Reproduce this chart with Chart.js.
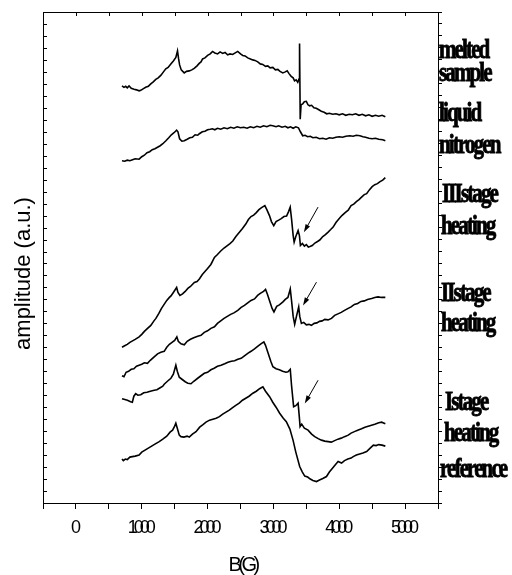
<!DOCTYPE html>
<html>
<head>
<meta charset="utf-8">
<script src="https://cdn.jsdelivr.net/npm/chart.js@4.4.0/dist/chart.umd.min.js"></script>
<style>
  html, body { margin: 0; padding: 0; background: #fff; }
</style>
</head>
<body>
<canvas id="c" width="512" height="575"></canvas>
<script>
// field B (G) and amplitude (a.u., offset stacked)
const meltedB   = [700,730,756,780,807,840,883,920,960,985,1020,1060,1100,1137,1175,1213,1250,1289,1330,1365,1400,1442,1480,1518,1543,1560,1575,1600,1645,1680,1721,1760,1797,1840,1873,1900,1924,1960,2000,2040,2076,2110,2152,2190,2229,2265,2305,2340,2381,2420,2458,2500,2534,2570,2610,2650,2686,2720,2762,2800,2838,2880,2915,2950,2991,3030,3067,3100,3143,3180,3209,3240,3270,3300,3321,3345,3370,3390,3397,3407,3420,3445,3470,3500,3525,3550,3580,3615,3650,3690,3727,3770,3810,3850,3900,3950,4000,4050,4100,4150,4200,4250,4300,4350,4400,4450,4500,4550,4600,4650,4700];
const meltedAmp = [418,416.5,417.5,416,418,415.5,414.5,414,413,413.5,415,416.5,417.5,420,422,424.5,426,428.5,432,435,436.5,440,443,446.5,453,445,439,434,431,432.5,433,434,435.5,438,440.5,442,445,446,448.5,450,452.5,451,450,452,450.5,451.5,449,450,449.5,451,452.5,450,448.5,448,446,445,444,443.5,442,440,439.5,437.5,438,436,436.5,434,434.5,432.5,431,432,433,430,427.5,426,423,424,421.5,425,460.5,384.5,399,400,402,402.5,399,398,398.5,396,395.5,394,392.5,391.5,390,390.5,389.5,390,389,390,388.5,389.5,389,390,388.5,389.5,388,389,387.5,388.5,387.5,388.5,387];

const nitrogenB   = [700,740,780,820,860,900,960,1000,1040,1080,1120,1160,1200,1240,1280,1320,1367,1410,1450,1490,1530,1550,1575,1610,1646,1690,1730,1770,1810,1850,1875,1920,1960,2000,2040,2073,2110,2150,2200,2250,2300,2350,2400,2450,2500,2550,2600,2650,2700,2750,2800,2850,2900,2950,2990,3040,3080,3130,3180,3220,3260,3300,3340,3380,3410,3445,3480,3520,3560,3600,3650,3700,3750,3800,3850,3900,3950,4000,4050,4100,4160,4210,4260,4314,4360,4400,4450,4500,4550,4600,4660,4700];
const nitrogenAmp = [343,342.5,343.5,343,344,345,344.5,347,348.5,351,352,354,355,356.5,358,360,363,366,369,371,373.5,372,365,362.5,363,364.5,366,366.5,369,368.5,370,372,372.5,374,374.5,375,374,375.5,374.5,376,375,376.5,375.5,377,376,376.5,375.5,377,376,377.5,376.5,378,377,378.5,378,377,378,376.5,377.5,376,377,375.5,377,376,372,368,368.5,367,367.5,366,366.5,365,365.5,364.5,366,365.5,366.5,367,366.5,367.5,368,367.5,368.5,368,367,366.5,365.5,365,365.5,364.5,364,363];

const stage3B   = [700,740,780,820,860,900,960,1000,1040,1080,1138,1180,1215,1260,1300,1340,1380,1420,1444,1480,1510,1530,1550,1580,1620,1660,1700,1740,1799,1840,1875,1920,1960,2000,2050,2104,2150,2200,2250,2300,2340,2383,2430,2480,2530,2580,2620,2660,2700,2740,2780,2820,2870,2900,2940,2970,3005,3040,3080,3118,3160,3200,3230,3255,3275,3300,3315,3340,3375,3395,3410,3440,3470,3500,3530,3555,3590,3630,3670,3704,3750,3790,3831,3870,3907,3950,4000,4040,4090,4136,4180,4220,4260,4300,4339,4380,4416,4460,4500,4540,4580,4620,4660,4700];
const stage3Amp = [156,157.5,159,161,162.5,164,166.5,169,172,174.5,178,182,185,190,195,199,203,206,207.5,211,214,216,211,208,209.5,212,215,217,221,222,224.5,229,232,235,239,246,249,252.5,255.5,258,260,262.5,267,271,275,279.5,284,287,288.5,291,294,296,298,294,288,282,278,282,283.5,285,287,287.5,292,296.5,285,268,261.5,267,273,268,258,260,257.5,259,256.5,257,258,260.5,262,263.5,267,269,271.5,274,276.5,281,285,288,291,293.5,298,299.5,302,304,306.5,309,310,314,317,319,320,322,323.5,326];

const stage2B   = [700,730,762,800,840,880,920,960,1000,1040,1087,1130,1180,1240,1290,1341,1380,1420,1460,1500,1533,1555,1596,1646,1690,1740,1790,1850,1900,1950,2000,2050,2104,2150,2200,2250,2300,2350,2400,2459,2510,2560,2610,2660,2713,2760,2800,2850,2881,2910,2950,2980,3008,3050,3090,3145,3180,3220,3256,3275,3300,3323,3350,3384,3400,3425,3460,3500,3540,3577,3620,3660,3700,3740,3780,3830,3882,3930,3980,4030,4080,4136,4180,4230,4280,4330,4380,4430,4492,4540,4590,4640,4700];
const stage2Amp = [127.5,126.5,131,132,134,134.5,137,138,139,140.5,140,143,146,149.5,151,152,156,159,161,163,166.5,162,159.5,158.5,162,164,165.5,167,168,171,172.5,175,176.5,180,182.5,185,187,189,190.5,193,196,198,200.5,203,204.5,208,210,212,214,209,201,195,191.5,197,198.5,201.5,204,206,214.5,203,187,179,187,196.5,187,180,181,178.5,179,178,180,180.5,182,182.5,184,183.5,185,188,189.5,191,193,195,196.5,199,200,202,202.5,204,205,206,206.5,206,206];

const stage1B   = [700,730,782,830,857,880,908,940,985,1030,1080,1130,1189,1230,1280,1320,1341,1390,1443,1480,1518,1540,1570,1610,1660,1700,1748,1790,1850,1900,1950,2000,2050,2100,2150,2205,2260,2310,2360,2410,2460,2510,2560,2610,2660,2713,2760,2810,2855,2880,2920,2960,2992,3040,3090,3140,3190,3221,3256,3275,3307,3340,3375,3395,3405,3430,3470,3526,3580,3628,3680,3730,3780,3831,3880,3930,3980,4030,4080,4136,4180,4230,4280,4339,4390,4440,4490,4540,4600,4644,4700];
const stage1Amp = [104.5,104,103,101.5,101,107,109.5,108,108.5,110.5,111,112,113,113.5,115.5,117,119,122,125,129,138,132,126,124,121.5,120,119.5,122,125,127.5,130,131,133.5,135,137,138,139.5,141,142,142.5,144,145,147.5,150,152,154.5,157,159.5,161.5,158,150,142,136.5,134.5,133.5,132,131,131.5,134,118,96.5,97.5,100,85,76.5,79,75,73,69,66.5,64.5,63,62,61.5,61,62.5,64,65,66.5,68,70,71.5,73,74.5,76,77,78,79,80.5,81,79.5];

const referenceB   = [700,720,750,780,820,858,900,960,1000,1050,1100,1150,1200,1265,1320,1380,1430,1468,1500,1518,1540,1570,1596,1640,1690,1722,1770,1824,1880,1930,1976,2030,2080,2130,2180,2230,2280,2330,2380,2434,2480,2530,2580,2630,2688,2740,2790,2840,2880,2942,2990,3040,3095,3150,3196,3250,3298,3340,3399,3440,3476,3520,3560,3600,3654,3700,3750,3806,3850,3900,3950,3983,4035,4080,4130,4180,4212,4260,4310,4360,4416,4470,4518,4560,4600,4650,4700];
const referenceAmp = [44,42.5,44,43.5,46,46.5,47,48,51,53,55,57,59,61.5,64,67,71,73,77,80,75,68,66.5,66,67,66,69,71.5,76,78.5,81,83,84,85,86.5,89,91,93,95.5,98,100,103,105,107,110,112,114.5,116.5,112,106.5,101,96,90,85,81.5,74,63,51,36.5,31,27,26,24,22.5,21.5,23,24.5,26.5,31,35,39,41.5,40,42.5,44,45,46.5,48,49,50,51.5,55,58,57.5,58.5,58,57];

const xTickLabels = [0, 1000, 2000, 3000, 4000, 5000];
const sideLabels = ['melted', 'sample', 'liquid', 'nitrogen', 'III stage', 'heating', 'II stage', 'heating', 'I stage', 'heating', 'reference'];

function pts(bs, as) {
  return bs.map((b, i) => ({ x: b, y: as[i] }));
}

const series = [
  pts(meltedB, meltedAmp),
  pts(nitrogenB, nitrogenAmp),
  pts(stage3B, stage3Amp),
  pts(stage2B, stage2Amp),
  pts(stage1B, stage1Amp),
  pts(referenceB, referenceAmp)
];

// label placement: [left px, baseline px]
const sidePos = [[439,58],[439,81],[439,121],[439,153],[442,202],[441,234],[441,301],[441,331],[445,410],[444,441],[440,477]];
// arrows in data units: [fromB, fromAmp, toB, toAmp]
const arrows = [[3678,296.5,3463,271.3],[3654,221.3,3450,198],[3678,123,3476,99.7]];

const extras = {
  id: 'extras',
  afterDraw(chart) {
    const ctx = chart.ctx;
    const xs = chart.scales.x, ys = chart.scales.y;
    const a = chart.chartArea;
    ctx.save();
    ctx.strokeStyle = '#000';
    ctx.fillStyle = '#000';
    ctx.lineWidth = 1;

    // inward ticks on the left and top edges
    ctx.beginPath();
    ys.ticks.forEach(t => {
      const py = Math.round(ys.getPixelForValue(t.value)) + 0.5;
      ctx.moveTo(a.left, py); ctx.lineTo(a.left + 4, py);
    });
    xs.ticks.forEach(t => {
      const px = Math.round(xs.getPixelForValue(t.value)) + 0.5;
      ctx.moveTo(px, a.top); ctx.lineTo(px, a.top + 4);
    });
    ctx.stroke();

    // arrows
    arrows.forEach(([b0, v0, b1, v1]) => {
      const x0 = xs.getPixelForValue(b0), y0 = ys.getPixelForValue(v0);
      const x1 = xs.getPixelForValue(b1), y1 = ys.getPixelForValue(v1);
      const ang = Math.atan2(y1 - y0, x1 - x0);
      ctx.beginPath();
      ctx.moveTo(x0, y0); ctx.lineTo(x1 - 5 * Math.cos(ang), y1 - 5 * Math.sin(ang));
      ctx.stroke();
      ctx.beginPath();
      ctx.moveTo(x1, y1);
      ctx.lineTo(x1 - 8 * Math.cos(ang) + 2.5 * Math.sin(ang), y1 - 8 * Math.sin(ang) - 2.5 * Math.cos(ang));
      ctx.lineTo(x1 - 8 * Math.cos(ang) - 2.5 * Math.sin(ang), y1 - 8 * Math.sin(ang) + 2.5 * Math.cos(ang));
      ctx.closePath();
      ctx.fill();
    });

    // x tick labels, squeezed like the original
    ctx.font = '18px "Liberation Sans", Arial, sans-serif';
    ctx.textAlign = 'center';
    ctx.textBaseline = 'middle';
    ctx.letterSpacing = '-4px';
    xTickLabels.forEach(v => {
      ctx.fillText(String(v), xs.getPixelForValue(v) - 2, 528);
    });

    // x title
    ctx.font = '20px "Liberation Sans", Arial, sans-serif';
    ctx.letterSpacing = '-3.5px';
    ctx.fillText('B(G)', (a.left + a.right) / 2 + 2, 565);

    // y title
    ctx.letterSpacing = '0px';
    ctx.save();
    ctx.translate(24, (a.top + a.bottom) / 2 + 16);
    ctx.rotate(-Math.PI / 2);
    ctx.font = '22px "Liberation Sans", Arial, sans-serif';
    ctx.fillText('amplitude (a.u.)', 0, 0);
    ctx.restore();

    // right side curve names: heavy condensed serif
    ctx.textAlign = 'left';
    ctx.textBaseline = 'alphabetic';
    ctx.font = 'bold 28px "Liberation Serif", "Times New Roman", serif';
    ctx.letterSpacing = '-2.5px';
    ctx.lineWidth = 0.9;
    sideLabels.forEach((s, i) => {
      const [lx, ly] = sidePos[i];
      ctx.save();
      ctx.translate(lx, ly);
      ctx.scale(0.75, 1);
      const t = s.replace(' ', '');
      ctx.fillText(t, 0, 0);
      ctx.strokeText(t, 0, 0);
      ctx.restore();
    });
    ctx.restore();
  }
};

const noGrid = { display: false };

new Chart(document.getElementById('c'), {
  type: 'line',
  data: {
    datasets: series.map(d => ({
      data: d,
      borderColor: '#000',
      borderWidth: 1.6,
      pointRadius: 0,
      tension: 0,
      fill: false
    }))
  },
  options: {
    responsive: false,
    animation: false,
    devicePixelRatio: 1,
    layout: { padding: 0 },
    plugins: { legend: { display: false }, tooltip: { enabled: false } },
    scales: {
      x: {
        type: 'linear', position: 'bottom', min: -500, max: 5500,
        ticks: { stepSize: 500, color: 'rgba(0,0,0,0)', font: { size: 1 } },
        grid: { display: true, drawOnChartArea: false, tickLength: 6, color: '#000' },
        border: { display: true, color: '#000', width: 1 },
        afterFit(s) { s.height = 72; }
      },
      x2: {
        type: 'linear', position: 'top', min: -500, max: 5500,
        ticks: { display: false },
        grid: noGrid,
        border: { display: true, color: '#000', width: 1 },
        afterFit(s) { s.height = 12; }
      },
      y: {
        type: 'linear', position: 'left', min: 0, max: 492,
        ticks: { stepSize: 12, display: false },
        grid: noGrid,
        border: { display: true, color: '#000', width: 1 },
        afterFit(s) { s.width = 43; }
      },
      y2: {
        type: 'linear', position: 'right', min: 0, max: 492,
        ticks: { stepSize: 12, color: 'rgba(0,0,0,0)', font: { size: 1 } },
        grid: { display: true, drawOnChartArea: false, tickLength: 4, color: '#000' },
        border: { display: true, color: '#000', width: 1 },
        afterFit(s) { s.width = 74; }
      }
    }
  },
  plugins: [extras]
});
</script>
</body>
</html>
